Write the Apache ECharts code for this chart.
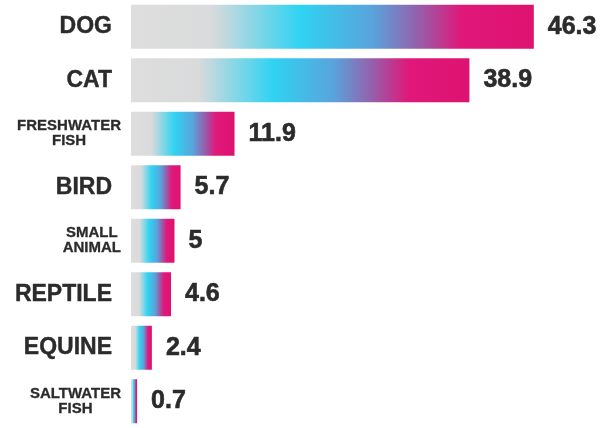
<!DOCTYPE html>
<html><head><meta charset="utf-8">
<script src="https://cdn.jsdelivr.net/npm/echarts@6/dist/echarts.min.js"></script>
<style>html,body{margin:0;padding:0;background:#fff}#c{width:614px;height:428px}</style>
</head><body><div id="c"></div>
<script>
const categories = ["DOG","CAT","FRESHWATER\nFISH","BIRD","SMALL\nANIMAL","REPTILE","EQUINE","SALTWATER\nFISH"];
const values = [46.3, 38.9, 11.9, 5.7, 5, 4.6, 2.4, 0.7];
const valueLabels = ["46.3","38.9","11.9","5.7","5","4.6","2.4","0.7"];

const FONT = '"Liberation Sans",Arial,sans-serif';
const chart = echarts.init(document.getElementById('c'), null, {renderer:'canvas'});
const grad = new echarts.graphic.LinearGradient(0,0,1,0,[
  {offset:0, color:'#dedede'},
  {offset:0.2, color:'#d9dadb'},
  {offset:0.42, color:'#2fd3f2'},
  {offset:0.6, color:'#5aa3dc'},
  {offset:0.72, color:'#9a5aa8'},
  {offset:0.82, color:'#e0187a'},
  {offset:1, color:'#de1270'}
]);
chart.setOption({
  animation:false,
  grid:{left:131, right:48, top:-2, height:440, containLabel:false},
  xAxis:{type:'value', min:0, max:50, show:false},
  yAxis:{type:'category', inverse:true, data:categories,
    axisLine:{show:false}, axisTick:{show:false},
    axisLabel:{margin:10, color:'#2b2b2b', fontFamily:FONT, fontWeight:'bold',
      formatter:function(v){ return v.indexOf('\n')>=0 ? '{s|'+v.replace('\n','}\n{s|')+'}' : '{b|'+v+'}'; },
      rich:{
        b:{fontSize:23, fontWeight:'bold', color:'#2b2b2b', fontFamily:FONT, padding:[0,9,0,0], textBorderColor:'#2b2b2b', textBorderWidth:0.4},
        s:{fontSize:15, lineHeight:15, fontWeight:'bold', color:'#2b2b2b', align:'center', fontFamily:FONT, textBorderColor:'#2b2b2b', textBorderWidth:0.3}
      }}
  },
  series:[{
    type:'bar', data:values, barWidth:44,
    itemStyle:{color:grad},
    label:{show:true, position:'right', distance:14, color:'#2b2b2b',
      fontFamily:FONT, fontWeight:'bold', fontSize:25, textBorderColor:'#2b2b2b', textBorderWidth:0.6,
      formatter:function(p){ return valueLabels[p.dataIndex]; }}
  }]
});
</script></body></html>
